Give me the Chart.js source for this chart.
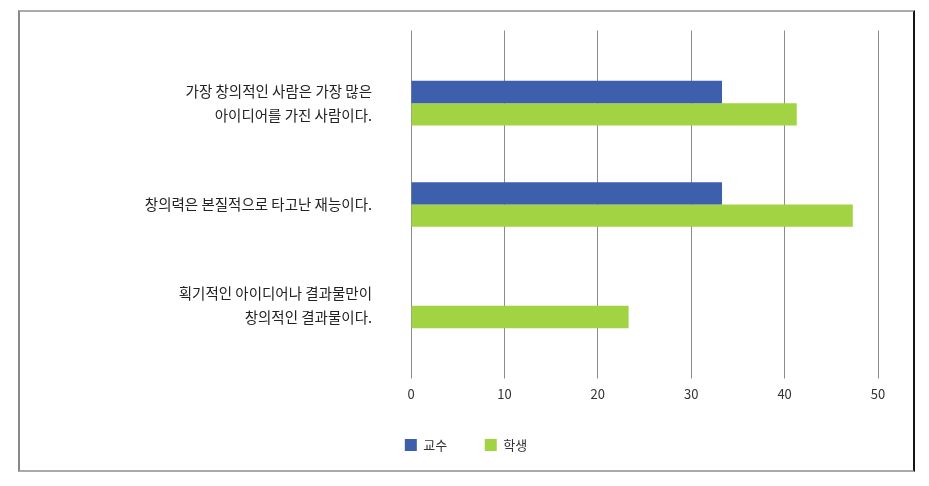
<!DOCTYPE html>
<html>
<head>
<meta charset="utf-8">
<script src="https://cdn.jsdelivr.net/npm/chart.js@4/dist/chart.umd.min.js"></script>
<style>
  html, body { margin: 0; padding: 0; background: #ffffff; width: 929px; height: 486px; overflow: hidden; }
  #frame { position: absolute; left: 18px; top: 10px; width: 897px; height: 462px; box-sizing: border-box;
           border-top: 2px solid #aaaaaa; border-bottom: 2px solid #aaaaaa; border-left: 2px solid #888888; border-right: 2px solid #151515; }
  #c { position: absolute; left: 42px; top: 12px; }
</style>
</head>
<body>
<div id="frame"></div>
<canvas id="c" width="848" height="457" style="width:848px;height:457px"></canvas>
<script>
const categories = [
  ['가장 창의적인 사람은 가장 많은', '아이디어를 가진 사람이다.'],
  ['창의력은 본질적으로 타고난 재능이다.'],
  ['획기적인 아이디어나 결과물만이', '창의적인 결과물이다.']
];
const seriesNames = ['교수', '학생'];
const professorValues = [33.3, 33.3, 0];
const studentValues = [41.3, 47.3, 23.3];
const xTicks = [0, 10, 20, 30, 40, 50];

const FONT = '"Noto Sans CJK KR", "Noto Sans", sans-serif';
const GRID = '#8c8c8c';

function noPad(s) { s.paddingTop = 0; s.paddingBottom = 0; s.paddingLeft = 0; s.paddingRight = 0; }

new Chart(document.getElementById('c'), {
  type: 'bar',
  data: {
    labels: categories,
    datasets: [
      { label: seriesNames[0], data: professorValues, backgroundColor: '#3d5fac', borderWidth: 0 },
      { label: seriesNames[1], data: studentValues, backgroundColor: '#a1d343', borderWidth: 0 }
    ]
  },
  options: {
    indexAxis: 'y',
    responsive: false,
    animation: false,
    devicePixelRatio: 1,
    categoryPercentage: 0.441,
    barPercentage: 1,
    layout: { padding: { left: 12, right: 12, top: 18.5, bottom: 7.5 } },
    scales: {
      x: {
        type: 'linear', position: 'bottom', min: xTicks[0], max: xTicks[xTicks.length - 1],
        afterBuildTicks: (s) => { s.ticks = xTicks.map(v => ({ value: v })); },
        grid: { color: GRID, lineWidth: 1, drawTicks: true, tickLength: 22, tickColor: GRID },
        border: { display: false },
        ticks: { padding: 9.5, color: '#333333', font: { family: FONT, size: 13, lineHeight: 1 } },
        afterFit: (s) => { s.height = 44.5; noPad(s); }
      },
      x2: {
        type: 'linear', position: 'top', min: xTicks[0], max: xTicks[xTicks.length - 1],
        afterBuildTicks: (s) => { s.ticks = xTicks.map(v => ({ value: v })); },
        grid: { color: GRID, lineWidth: 1, drawOnChartArea: false, drawTicks: true, tickLength: 22, tickColor: GRID },
        border: { display: false },
        ticks: { display: false },
        afterFit: (s) => { s.height = 22; noPad(s); }
      },
      y: {
        type: 'category',
        grid: { display: false, drawTicks: false },
        border: { display: false },
        ticks: { padding: 39, color: '#222222', font: { family: FONT, size: 14.5, lineHeight: 1.655 } },
        afterFit: (s) => { s.width = 357; noPad(s); }
      }
    },
    plugins: {
      legend: {
        position: 'bottom',
        labels: { boxWidth: 12, boxHeight: 12, padding: 37.5, color: '#333333', font: { family: FONT, size: 13 } }
      },
      tooltip: { enabled: false }
    }
  }
});
</script>
</body>
</html>
